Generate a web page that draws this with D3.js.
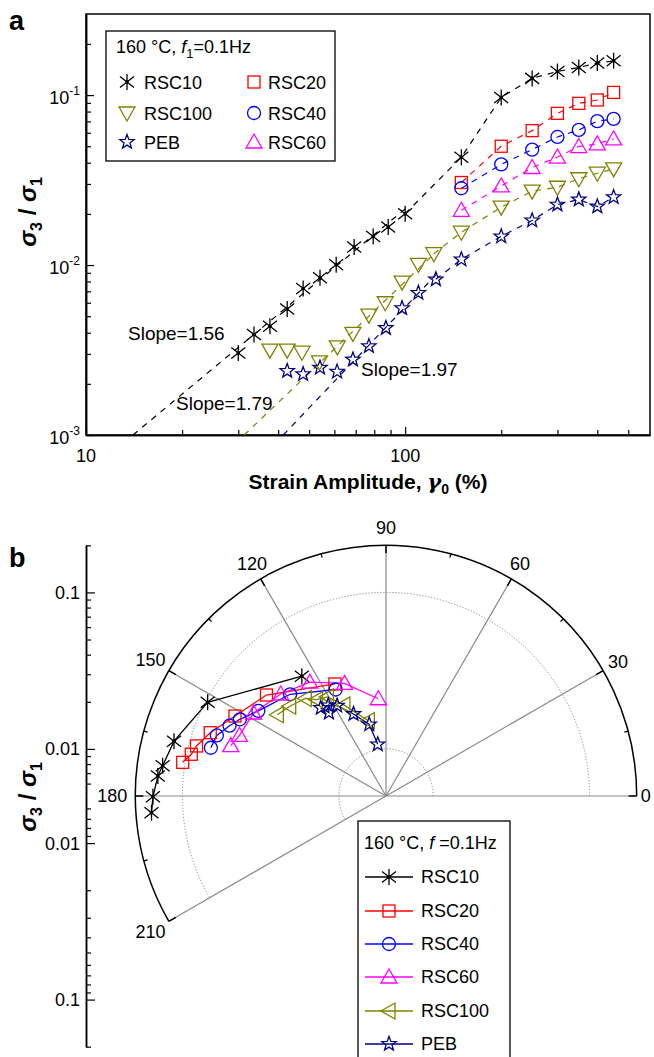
<!DOCTYPE html>
<html><head><meta charset="utf-8">
<script src="https://cdn.jsdelivr.net/npm/d3@7"></script>
<style>body{margin:0;background:#fff} text{font-family:Arial,"Liberation Sans",sans-serif;fill:#000}</style>
</head><body>
<svg id="c" width="654" height="1057"></svg>
<script>
// ---------------- DATA ----------------
const strain10  = [30,33.6,37.7,42.7,47.9,54.1,60.8,69.2,79.4,88.5,100,150,200,250,300,350,400,450];
const rsc10     = [0.00304,0.0039,0.00437,0.00551,0.00727,0.00843,0.01005,0.01276,0.01474,0.01672,0.02004,0.0431,0.0969,0.1254,0.1378,0.1454,0.1543,0.159];
const strainHigh = [150,200,250,300,350,400,450];
const rsc20     = [0.0306,0.050,0.0618,0.0781,0.0894,0.0936,0.1037];
const rsc40     = [0.0283,0.0391,0.0478,0.0567,0.0624,0.0703,0.0724];
const rsc60     = [0.0210,0.0292,0.0375,0.0432,0.0498,0.0516,0.0552];
const strain100 = [37.7,42.7,47.5,53.9,61.3,68.6,77.0,86.6,97.8,110,123,150,200,250,300,350,400,450];
const rsc100    = [0.00316,0.00316,0.00307,0.00269,0.0033,0.00396,0.00507,0.0060,0.00794,0.0101,0.01166,0.0156,0.0219,0.0272,0.0287,0.0322,0.0347,0.0368];
const strainPEB = [42.7,47.9,54.1,61.2,68.6,77.0,87.0,97.8,110,124.8,150,200,250,300,350,400,450];
const peb       = [0.00238,0.00228,0.00249,0.00236,0.00278,0.00333,0.00426,0.00557,0.00685,0.00824,0.0108,0.01474,0.0183,0.0227,0.0243,0.0221,0.0251];

// power-law fits (slope, strain at sigma3/sigma1 = 1e-3, last strain of fitted range)
const fitSlopes = [1.56,1.79,1.97];
const fitStart  = [14.03,31.3,41.5];
const fitEnd    = [100,123,124.8];
const fitLabels = ["Slope=1.56","Slope=1.79","Slope=1.97"];

// polar panel: phase angle (deg) of 3rd harmonic at strainHigh
const phase10  = [125.1,152.3,165.5,172.3,175.0,180.2,184.1];
const phase20  = [114.5,139.8,152.1,160.2,165.2,167.9,170.6];
const phase40  = [115.3,133.3,146.3,152.3,155.8,160.3,164.6];
const phase60  = [94.5,110.2,123.8,135.9,147.9,157.5,162.0];
const phase100 = [103.2,114.8,120.6,125.8,129.6,137.0,143.2];
const phasePEB = [99.1,103.2,111.6,118.4,122.5,124.4,126.5];

const xMajor = [10,100], xMinor = [20,30,40,50,60,70,80,90,200,300,400,500];
const yMajor = [0.001,0.01,0.1], yMajorExp = ["-3","-2","-1"];
const yMinor = [0.002,0.003,0.004,0.005,0.006,0.007,0.008,0.009,0.02,0.03,0.04,0.05,0.06,0.07,0.08,0.09,0.2];
const angleTicks = [0,30,60,90,120,150,180,210];
const angleMinor = [15,45,75,105,135,165,195];
const rMajor = [0.01,0.1], rLabels = ["0.01","0.1"];
const rMinor = [0.006,0.007,0.008,0.009,0.02,0.03,0.04,0.05,0.06,0.07,0.08,0.09,0.2];

// ---------------- STYLE ----------------
const series = [
  {name:"RSC10", x:strain10, y:rsc10, color:"#000000", mk:"asterisk", connectFrom:10, fit:0, phase:phase10},
  {name:"RSC20", x:strainHigh, y:rsc20, color:"#ff0000", mk:"square", connectFrom:0, fit:-1, phase:phase20},
  {name:"RSC40", x:strainHigh, y:rsc40, color:"#0000ff", mk:"circle", connectFrom:0, fit:-1, phase:phase40},
  {name:"RSC60", x:strainHigh, y:rsc60, color:"#ff00ff", mk:"triUp", connectFrom:0, fit:-1, phase:phase60},
  {name:"RSC100", x:strain100, y:rsc100, color:"#808000", mk:"triDown", mkB:"triLeft", connectFrom:10, fit:1, phase:phase100},
  {name:"PEB", x:strainPEB, y:peb, color:"#000080", mk:"star", connectFrom:9, fit:2, phase:phasePEB}
];

const svg = d3.select("#c");

function starPath(R, r){
  let p=[];
  for(let i=0;i<10;i++){
    const a = -Math.PI/2 + i*Math.PI/5;
    const rr = i%2===0?R:r;
    p.push([rr*Math.cos(a), rr*Math.sin(a)]);
  }
  return "M"+p.map(d=>d[0].toFixed(2)+","+d[1].toFixed(2)).join("L")+"Z";
}
function drawMarker(g, type, color){
  const sw = 1.3;
  if(type==="asterisk"){
    g.append("path").attr("d","M0,-8V8M-7,-5.5L7,5.5M-7,5.5L7,-5.5").attr("stroke",color).attr("stroke-width",1.3).attr("fill","none");
    g.append("circle").attr("r",1.8).attr("fill",color);
  } else if(type==="square"){
    g.append("rect").attr("x",-6).attr("y",-6).attr("width",12).attr("height",12).attr("fill","none").attr("stroke",color).attr("stroke-width",sw);
  } else if(type==="circle"){
    g.append("circle").attr("r",6.5).attr("fill","none").attr("stroke",color).attr("stroke-width",sw);
  } else if(type==="triUp"){
    g.append("path").attr("d","M0,-8L8,6L-8,6Z").attr("fill","none").attr("stroke",color).attr("stroke-width",sw);
  } else if(type==="triDown"){
    g.append("path").attr("d","M0,8L8,-6L-8,-6Z").attr("fill","none").attr("stroke",color).attr("stroke-width",sw);
  } else if(type==="triLeft"){
    g.append("path").attr("d","M-8,0L6,-8L6,8Z").attr("fill","none").attr("stroke",color).attr("stroke-width",sw);
  } else if(type==="star"){
    g.append("path").attr("d",starPath(7.5,3.1)).attr("fill","none").attr("stroke",color).attr("stroke-width",sw);
  }
}

// ================= PANEL A =================
const xA = d3.scaleLog().domain([10,585]).range([86,650]);
const yA = d3.scaleLog().domain([0.001,0.3]).range([435,14]);
const gA = svg.append("g");

gA.append("rect").attr("x",86).attr("y",14).attr("width",564).attr("height",421).attr("fill","none").attr("stroke","#000").attr("stroke-width",1.5);

gA.append("g").attr("transform","translate(0,435)").call(d3.axisBottom(xA).tickValues(xMajor).tickSize(-8).tickSizeOuter(0).tickFormat(""));
gA.append("g").attr("transform","translate(0,435)").call(d3.axisBottom(xA).tickValues(xMinor).tickSize(-5).tickSizeOuter(0).tickFormat(""));
gA.append("g").attr("transform","translate(86,0)").call(d3.axisLeft(yA).tickValues(yMajor).tickSize(-8).tickSizeOuter(0).tickFormat(""));
gA.append("g").attr("transform","translate(86,0)").call(d3.axisLeft(yA).tickValues(yMinor).tickSize(-5).tickSizeOuter(0).tickFormat(""));
gA.selectAll(".domain").attr("stroke","#000").attr("stroke-width",1.5);
gA.selectAll(".tick line").attr("stroke","#000").attr("stroke-width",1.2);

xMajor.forEach(v=>{
  gA.append("text").attr("x",xA(v)).attr("y",462).attr("text-anchor","middle").attr("font-size",18).text(String(v));
});
yMajor.forEach((v,i)=>{
  const t = gA.append("text").attr("x",80).attr("y",yA(v)+9).attr("text-anchor","end").attr("font-size",18);
  t.append("tspan").text("10");
  t.append("tspan").attr("font-size",12).attr("dy",-9).text(yMajorExp[i]);
});

const xt = gA.append("text").attr("x",368).attr("y",489).attr("text-anchor","middle").attr("font-size",21).attr("font-weight","bold");
xt.append("tspan").text("Strain Amplitude, ");
xt.append("tspan").attr("font-style","italic").attr("font-family","'DejaVu Serif',serif").text("γ");
xt.append("tspan").attr("font-size",14).attr("dy",5).text("0");
xt.append("tspan").attr("dy",-5).text(" (%)");

function sigmaTitle(g, x, y){
  const t = g.append("text").attr("transform",`translate(${x},${y}) rotate(-90)`).attr("text-anchor","middle").attr("font-size",24).attr("font-weight","bold");
  t.append("tspan").attr("font-style","italic").text("σ");
  t.append("tspan").attr("font-size",16).attr("dy",6).text("3");
  t.append("tspan").attr("dy",-6).text(" / ");
  t.append("tspan").attr("font-style","italic").text("σ");
  t.append("tspan").attr("font-size",16).attr("dy",6).text("1");
}
sigmaTitle(gA, 36, 212);

svg.append("text").attr("x",9).attr("y",30).attr("font-size",27).attr("font-weight","bold").text("a");

const lineA = d3.line().x(d=>xA(d[0])).y(d=>yA(d[1]));
fitSlopes.forEach((s,i)=>{
  const s0 = fitStart[i], s1 = fitEnd[i];
  const y1 = 0.001*Math.pow(s1/s0, s);
  const col = series.find(d=>d.fit===i).color;
  gA.append("path").attr("d",lineA([[s0,0.001],[s1,y1]])).attr("stroke",col).attr("stroke-width",1.2).attr("stroke-dasharray","6,6").attr("fill","none");
});
series.forEach(s=>{
  const pts = s.x.map((x,i)=>[x,s.y[i]]).slice(s.connectFrom);
  gA.append("path").attr("d",lineA(pts)).attr("stroke",s.color).attr("stroke-width",1.2).attr("stroke-dasharray","6,6").attr("fill","none");
});
series.forEach(s=>{
  s.x.forEach((x,i)=>{
    const g = gA.append("g").attr("transform",`translate(${xA(x)},${yA(s.y[i])})`);
    drawMarker(g, s.mk, s.color);
  });
});
const slopePos = [[128,340],[176,410],[361,376]];
fitLabels.forEach((t,i)=>{
  gA.append("text").attr("x",slopePos[i][0]).attr("y",slopePos[i][1]).attr("font-size",19).text(t);
});

gA.append("rect").attr("x",106).attr("y",31).attr("width",229).attr("height",130).attr("fill","#fff").attr("stroke","#000").attr("stroke-width",1.3);
const lt = gA.append("text").attr("x",116).attr("y",53).attr("font-size",18);
lt.append("tspan").text("160 °C, ");
lt.append("tspan").attr("font-style","italic").text("f");
lt.append("tspan").attr("font-size",13).attr("dy",5).text("1");
lt.append("tspan").attr("dy",-5).text("=0.1Hz");
const legOrder = [0,1,4,2,5,3];
const legRows = [82,113,142], legCols=[[127,144],[254,268]];
legOrder.forEach((si,k)=>{
  const s = series[si];
  const row = Math.floor(k/2), col = k%2;
  const g = gA.append("g").attr("transform",`translate(${legCols[col][0]},${legRows[row]})`);
  drawMarker(g, s.mk, s.color);
  gA.append("text").attr("x",legCols[col][1]).attr("y",legRows[row]+7).attr("font-size",18).text(s.name);
});

// ================= PANEL B =================
const cx = 386, cy = 796, R = 250.7;
const rB = d3.scaleLog().domain([0.005,0.2]).range([0,R]);
const gB = svg.append("g");
const pol = (deg, r)=>[cx + r*Math.cos(deg*Math.PI/180), cy - r*Math.sin(deg*Math.PI/180)];
const arcPath = (r, a0, a1)=>{
  const p0 = pol(a0,r), p1 = pol(a1,r);
  const large = (a1-a0)>180?1:0;
  return `M${p0[0]},${p0[1]}A${r},${r} 0 ${large} 0 ${p1[0]},${p1[1]}`;
};
rMajor.forEach(v=>{
  gB.append("path").attr("d",arcPath(rB(v),0,210)).attr("fill","none").attr("stroke","#888").attr("stroke-width",1).attr("stroke-dasharray","1.2,1.8");
});
angleTicks.forEach(a=>{
  const p = pol(a,R);
  gB.append("line").attr("x1",cx).attr("y1",cy).attr("x2",p[0]).attr("y2",p[1]).attr("stroke","#8a8a8a").attr("stroke-width",1.2);
});
gB.append("path").attr("d",arcPath(R,0,210)).attr("fill","none").attr("stroke","#000").attr("stroke-width",1.5);
angleTicks.forEach(a=>{
  const p0 = pol(a,R), p1 = pol(a,R-8);
  gB.append("line").attr("x1",p0[0]).attr("y1",p0[1]).attr("x2",p1[0]).attr("y2",p1[1]).attr("stroke","#000").attr("stroke-width",1.5);
});
angleMinor.forEach(a=>{
  const p0 = pol(a,R), p1 = pol(a,R-4);
  gB.append("line").attr("x1",p0[0]).attr("y1",p0[1]).attr("x2",p1[0]).attr("y2",p1[1]).attr("stroke","#000").attr("stroke-width",1.2);
});
angleTicks.forEach(a=>{
  let anchor="middle", r = (a===150||a===210||a===180)?272:268;
  let p = pol(a,r);
  if(a===0){anchor="start"; p = pol(0,R+4);}
  if(a===180){anchor="end"; p = pol(180,R+8);}
  gB.append("text").attr("x",p[0]).attr("y",p[1]).attr("dy","0.36em").attr("text-anchor",anchor).attr("font-size",18).text(String(a));
});

const yTop = d3.scaleLog().domain([0.005,0.2]).range([cy, cy-R]);
const yBot = d3.scaleLog().domain([0.005,0.2]).range([cy, cy+R]);
[yTop,yBot].forEach(sc=>{
  gB.append("g").attr("transform","translate(86,0)").call(d3.axisLeft(sc).tickValues(rMajor).tickSize(-9).tickSizeOuter(0).tickFormat(""));
  gB.append("g").attr("transform","translate(86,0)").call(d3.axisLeft(sc).tickValues(rMinor).tickSize(-5).tickSizeOuter(0).tickFormat(""));
  rMajor.forEach((v,i)=>{
    gB.append("text").attr("x",80).attr("y",sc(v)).attr("dy","0.36em").attr("text-anchor","end").attr("font-size",18).text(rLabels[i]);
  });
});
gB.selectAll(".domain").attr("stroke","#000").attr("stroke-width",1.5);
gB.selectAll(".tick line").attr("stroke","#000").attr("stroke-width",1.2);
sigmaTitle(gB, 36, 797);
svg.append("text").attr("x",9).attr("y",567).attr("font-size",27).attr("font-weight","bold").text("b");

const lineB = d3.line().x(d=>pol(d[0],rB(d[1]))[0]).y(d=>pol(d[0],rB(d[1]))[1]);
series.forEach(s=>{
  const vals = s.y.slice(-strainHigh.length);
  const pts = s.phase.map((a,i)=>[a, vals[i]]);
  gB.append("path").attr("d",lineB(pts)).attr("fill","none").attr("stroke",s.color).attr("stroke-width",1.3);
});
series.forEach(s=>{
  const vals = s.y.slice(-strainHigh.length);
  s.phase.forEach((a,i)=>{
    const p = pol(a, rB(vals[i]));
    const g = gB.append("g").attr("transform",`translate(${p[0]},${p[1]})`);
    drawMarker(g, s.mkB||s.mk, s.color);
  });
});

gB.append("rect").attr("x",358).attr("y",821).attr("width",152).attr("height",260).attr("fill","#fff").attr("stroke","#000").attr("stroke-width",1.3);
const lb = gB.append("text").attr("x",364).attr("y",849).attr("font-size",18);
lb.append("tspan").text("160 °C, ");
lb.append("tspan").attr("font-style","italic").text("f");
lb.append("tspan").text(" =0.1Hz");
const legRowsB = [877,911,944,977,1011,1044];
series.forEach((s,i)=>{
  const y = legRowsB[i];
  gB.append("line").attr("x1",365).attr("x2",413).attr("y1",y).attr("y2",y).attr("stroke",s.color).attr("stroke-width",1.3);
  const g = gB.append("g").attr("transform",`translate(389,${y})`);
  drawMarker(g, s.mkB||s.mk, s.color);
  gB.append("text").attr("x",421).attr("y",y).attr("dy","0.36em").attr("font-size",18).text(s.name);
});
</script></body></html>
